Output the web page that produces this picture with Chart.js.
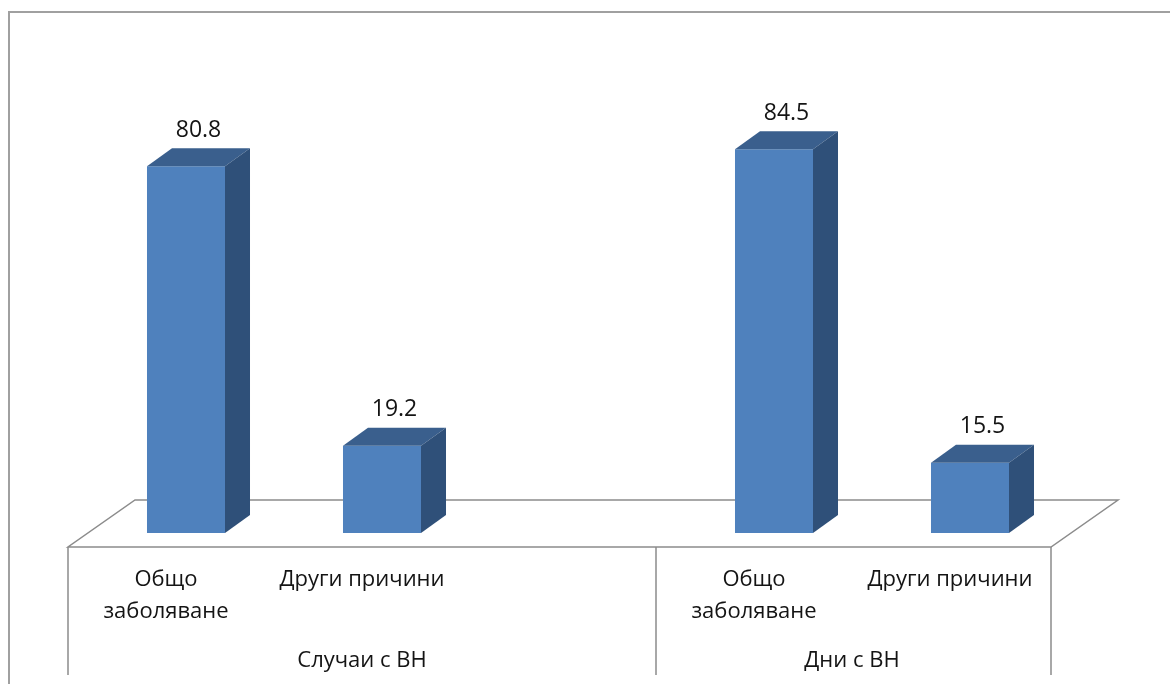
<!DOCTYPE html>
<html>
<head>
<meta charset="utf-8">
<script src="https://cdn.jsdelivr.net/npm/chart.js@4/dist/chart.umd.min.js"></script>
<style>
  html, body { margin: 0; padding: 0; background: #fff; }
  #wrap { width: 1170px; height: 684px; }
</style>
</head>
<body>
<div id="wrap"><canvas id="chart"></canvas></div>
<script>
const groups = ['Случаи с ВН', 'Дни с ВН'];
const causes = ['Общо заболяване', 'Други причини'];
const casesValues = [80.8, 19.2];
const daysValues = [84.5, 15.5];

// the first group carries one empty slot after its bars
const labels = [...causes, '', ...causes];
const values = [...casesValues, null, ...daysValues];
const groupSpans = [3, 2];

const FRONT = '#4f81bd';
const TOP = '#3a5f8d';
const SIDE = '#2f5079';
const LINE = '#8c8c8c';
const TEXT = '#141414';
const FONT = '"Open Sans", sans-serif';

// bar depth and floor depth, in pixels
const barDX = 25, barDY = -18;
const floorDX = 67, floorDY = -47;
const floorFront = 14;   // floor front edge sits this far below the bar base
const floorShift = 20;   // bars stand this far behind the floor front

const frame = {
  id: 'frame',
  beforeDraw(chart) {
    const ctx = chart.ctx;
    ctx.save();
    ctx.strokeStyle = '#a0a0a0';
    ctx.lineWidth = 2;
    ctx.beginPath();
    ctx.moveTo(9, 684);
    ctx.lineTo(9, 12);
    ctx.lineTo(1170, 12);
    ctx.stroke();
    ctx.restore();
  }
};

const floor = {
  id: 'floor',
  beforeDatasetsDraw(chart) {
    const ctx = chart.ctx;
    const area = chart.chartArea;
    const x = chart.scales.x;
    const base = chart.scales.y.getPixelForValue(0);
    const left = area.left - floorShift;
    const right = area.right - floorShift + 3;
    const front = base + floorFront;
    const slot = (area.right - area.left) / labels.length;

    ctx.save();
    ctx.strokeStyle = LINE;
    ctx.lineWidth = 1.5;
    ctx.beginPath();
    ctx.moveTo(left, front);
    ctx.lineTo(right, front);
    ctx.lineTo(right + floorDX, front + floorDY);
    ctx.lineTo(left + floorDX, front + floorDY);
    ctx.closePath();
    ctx.stroke();

    // group dividers below the floor
    const bottom = 675;
    const edges = [left, left + groupSpans[0] * slot, right];
    ctx.beginPath();
    edges.forEach(e => {
      ctx.moveTo(e, front);
      ctx.lineTo(e, bottom);
    });
    ctx.stroke();

    // category and group labels
    ctx.fillStyle = TEXT;
    ctx.textAlign = 'center';
    ctx.textBaseline = 'middle';
    ctx.font = '22px ' + FONT;
    labels.forEach((lab, i) => {
      if (!lab) return;
      const cx = x.getPixelForValue(i) - floorShift;
      const words = lab.split(' ');
      const lines = words[0].length <= 4 ? [words[0], words.slice(1).join(' ')] : [lab];
      lines.forEach((ln, j) => ctx.fillText(ln, cx, 580 + j * 32));
    });
    let start = left;
    groups.forEach((g, i) => {
      const w = groupSpans[i] * slot;
      ctx.fillText(g, start + w / 2, 661);
      start += w;
    });
    ctx.restore();
  }
};

const bars3d = {
  id: 'bars3d',
  afterDatasetsDraw(chart) {
    const ctx = chart.ctx;
    const meta = chart.getDatasetMeta(0);
    ctx.save();
    meta.data.forEach((bar, i) => {
      if (values[i] == null) return;
      const { x, y, width, base } = bar.getProps(['x', 'y', 'width', 'base'], true);
      const l = x - width / 2, r = x + width / 2;

      ctx.fillStyle = TOP;
      ctx.beginPath();
      ctx.moveTo(l, y);
      ctx.lineTo(r, y);
      ctx.lineTo(r + barDX, y + barDY);
      ctx.lineTo(l + barDX, y + barDY);
      ctx.closePath();
      ctx.fill();

      ctx.fillStyle = SIDE;
      ctx.beginPath();
      ctx.moveTo(r, y);
      ctx.lineTo(r + barDX, y + barDY);
      ctx.lineTo(r + barDX, base + barDY);
      ctx.lineTo(r, base);
      ctx.closePath();
      ctx.fill();

      ctx.fillStyle = TEXT;
      ctx.font = '23px ' + FONT;
      ctx.textAlign = 'center';
      ctx.textBaseline = 'middle';
      ctx.fillText(values[i].toFixed(1), x + barDX / 2, y + barDY - 18);
    });
    ctx.restore();
  }
};

new Chart(document.getElementById('chart'), {
  type: 'bar',
  data: {
    labels: labels,
    datasets: [{
      data: values,
      backgroundColor: FRONT,
      borderWidth: 0,
      barPercentage: 1,
      categoryPercentage: 0.398
    }]
  },
  options: {
    responsive: true,
    maintainAspectRatio: false,
    animation: false,
    layout: { padding: { left: 88, right: 102, top: 79, bottom: 151 } },
    plugins: { legend: { display: false }, tooltip: { enabled: false } },
    scales: {
      x: { display: false },
      y: { display: false, min: 0, max: 100 }
    }
  },
  plugins: [frame, floor, bars3d]
});
</script>
</body>
</html>
